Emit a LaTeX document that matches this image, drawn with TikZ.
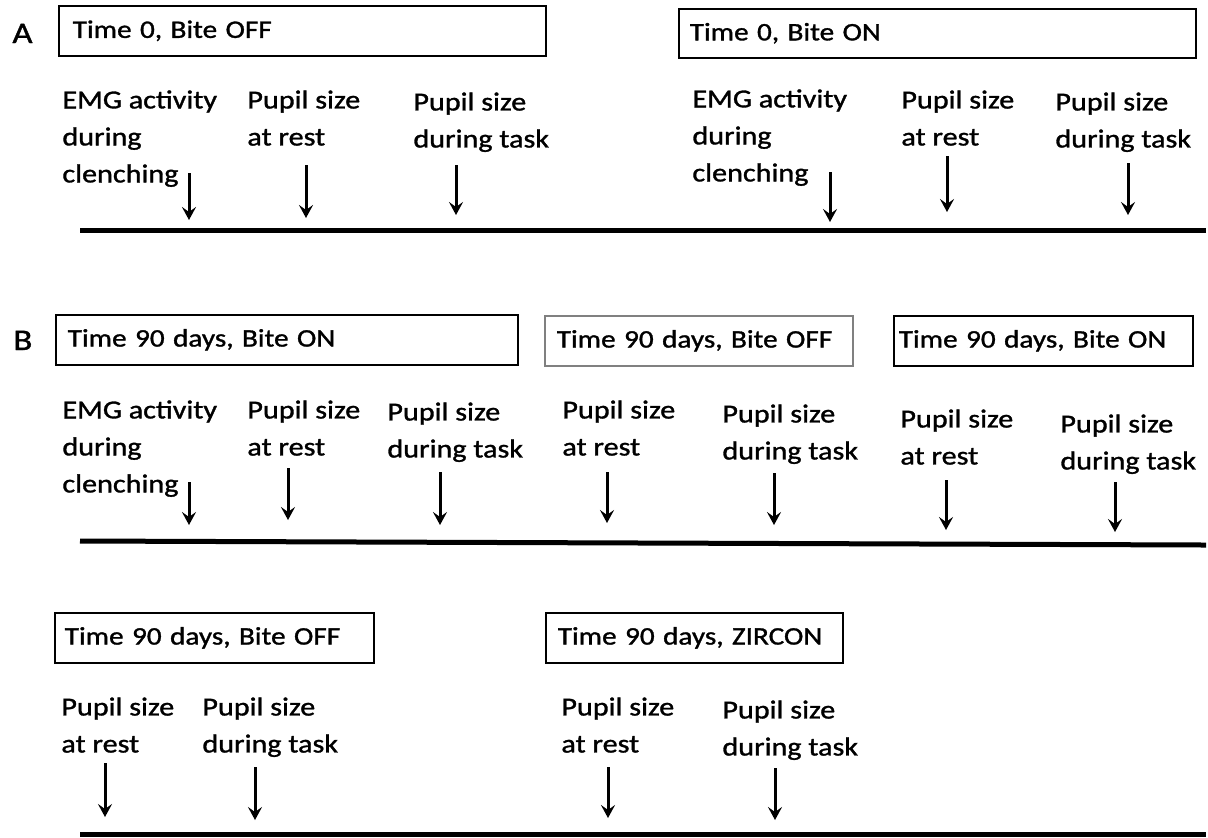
\documentclass[tikz,border=0pt]{standalone}
\usepackage{fontspec}
\setmainfont{Carlito}[FakeStretch=1.16, FakeBold=1.2]
\usetikzlibrary{arrows.meta}
\tikzset{
	%Diagram styles
	period/.style={
		draw,
		rectangle,
		line width=0.8pt,
		anchor=north west,
		minimum height=25pt,
		inner xsep=5pt,
		align=left,
		font=\fontsize{12.6}{15}\selectfont,
	},
	measure/.style={
		anchor=north west,
		inner sep=0pt,
		align=left,
	},
	timeline/.style={
		line width=2.5pt,
	},
	marker/.style={
		-{Stealth[length=6.5pt,width=7pt,inset=2.5pt]},
		line width=1.5pt,
	},
	panel/.style={
		anchor=base west,
		inner sep=0pt,
		font=\fontsize{15}{18}\selectfont,
	}
}

\begin{document}
\begin{tikzpicture}[x=0.5pt, y=-0.5pt, font=\fontsize{13}{18.5}\selectfont]
	\useasboundingbox (0,0) rectangle (1208,837);

	% A
	\node (panelA) at (12,43) [panel] {A};
	\node (offA) at (58,5) [period, inner xsep=7pt, text width=229.5pt] {Time 0, Bite OFF};
	\node (onA) at (678,8) [period, minimum height=24.5pt, inner xsep=5.5pt, text width=247.5pt] {Time 0, Bite ON};
	\node (emgOffA) at (62,90) [measure] {EMG activity\\during\\clenching};
	\node (restOffA) at (247,90) [measure] {Pupil size\\at rest};
	\node (taskOffA) at (413,92) [measure] {Pupil size\\during task};
	\node (emgOnA) at (692,89) [measure] {EMG activity\\during\\clenching};
	\node (restOnA) at (901,90) [measure] {Pupil size\\at rest};
	\node (taskOnA) at (1055,92) [measure] {Pupil size\\during task};

	\coordinate (emgOffATop) at (189,173); \coordinate (emgOffATip) at (189,220);
	\coordinate (restOffATop) at (306,165); \coordinate (restOffATip) at (306,218);
	\coordinate (taskOffATop) at (456,165); \coordinate (taskOffATip) at (456,215);
	\coordinate (emgOnATop) at (830,172); \coordinate (emgOnATip) at (830,222);
	\coordinate (restOnATop) at (947,156); \coordinate (restOnATip) at (947,212);
	\coordinate (taskOnATop) at (1128,163); \coordinate (taskOnATip) at (1128,215);
	\draw[marker] (emgOffATop) -- (emgOffATip);
	\draw[marker] (restOffATop) -- (restOffATip);
	\draw[marker] (taskOffATop) -- (taskOffATip);
	\draw[marker] (emgOnATop) -- (emgOnATip);
	\draw[marker] (restOnATop) -- (restOnATip);
	\draw[marker] (taskOnATop) -- (taskOnATip);

	\coordinate (startA) at (80,230);
	\coordinate (endA) at (1206,230);
	\draw[timeline] (startA) -- (endA);

	% B
	\node (panelB) at (13,350) [panel] {B};
	\node (onB1) at (55,314) [period, inner xsep=6pt, text width=219pt] {Time 90 days, Bite ON};
	\node (offB) at (544,315) [period, draw=gray, inner xsep=6pt, text width=142pt] {Time 90 days, Bite OFF};
	\node (onB2) at (893,315) [period, inner xsep=2.5pt, text width=144.5pt] {Time 90 days, Bite ON};
	\node (emgOnB) at (62,400) [measure] {EMG activity\\during\\clenching};
	\node (restOnB1) at (247,400) [measure] {Pupil size\\at rest};
	\node (taskOnB1) at (387,402) [measure] {Pupil size\\during task};
	\node (restOffB) at (562,400) [measure] {Pupil size\\at rest};
	\node (taskOffB) at (722,404) [measure] {Pupil size\\during task};
	\node (restOnB2) at (900,409) [measure] {Pupil size\\at rest};
	\node (taskOnB2) at (1060,414) [measure] {Pupil size\\during task};

	\coordinate (emgOnBTop) at (189,482); \coordinate (emgOnBTip) at (189,525);
	\coordinate (restOnB1Top) at (288,468); \coordinate (restOnB1Tip) at (288,520);
	\coordinate (taskOnB1Top) at (440,472); \coordinate (taskOnB1Tip) at (440,525);
	\coordinate (restOffBTop) at (607,472); \coordinate (restOffBTip) at (607,523);
	\coordinate (taskOffBTop) at (774,473); \coordinate (taskOffBTip) at (774,525);
	\coordinate (restOnB2Top) at (946,480); \coordinate (restOnB2Tip) at (946,530);
	\coordinate (taskOnB2Top) at (1115,482); \coordinate (taskOnB2Tip) at (1115,532);
	\draw[marker] (emgOnBTop) -- (emgOnBTip);
	\draw[marker] (restOnB1Top) -- (restOnB1Tip);
	\draw[marker] (taskOnB1Top) -- (taskOnB1Tip);
	\draw[marker] (restOffBTop) -- (restOffBTip);
	\draw[marker] (taskOffBTop) -- (taskOffBTip);
	\draw[marker] (restOnB2Top) -- (restOnB2Tip);
	\draw[marker] (taskOnB2Top) -- (taskOnB2Tip);

	\coordinate (startB) at (80,541);
	\coordinate (endB) at (1206,545);
	\draw[timeline] (startB) -- (endB);

	% C
	\node (offC) at (54,612) [period, inner xsep=5pt, text width=149.5pt] {Time 90 days, Bite OFF};
	\node (zircon) at (545,612) [period, inner xsep=6pt, text width=136.5pt] {Time 90 days, ZIRCON};
	\node (restOffC) at (61,697) [measure] {Pupil size\\at rest};
	\node (taskOffC) at (202,697) [measure] {Pupil size\\during task};
	\node (restZircon) at (561,697) [measure] {Pupil size\\at rest};
	\node (taskZircon) at (722,700) [measure] {Pupil size\\during task};

	\coordinate (restOffCTop) at (105,763); \coordinate (restOffCTip) at (105,817);
	\coordinate (taskOffCTop) at (255,767); \coordinate (taskOffCTip) at (255,820);
	\coordinate (restZirconTop) at (608,767); \coordinate (restZirconTip) at (608,818);
	\coordinate (taskZirconTop) at (775,768); \coordinate (taskZirconTip) at (775,820);
	\draw[marker] (restOffCTop) -- (restOffCTip);
	\draw[marker] (taskOffCTop) -- (taskOffCTip);
	\draw[marker] (restZirconTop) -- (restZirconTip);
	\draw[marker] (taskZirconTop) -- (taskZirconTip);

	\coordinate (startC) at (80,834);
	\coordinate (endC) at (1206,834);
	\draw[timeline] (startC) -- (endC);
\end{tikzpicture}
\end{document}
